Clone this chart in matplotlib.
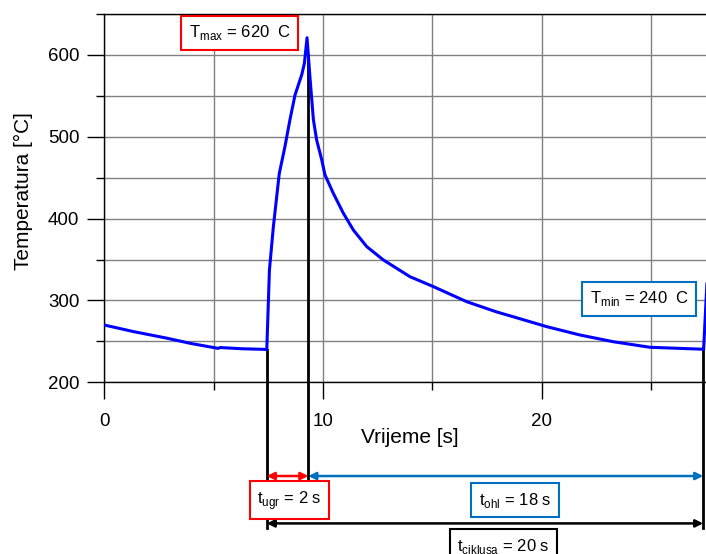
import matplotlib
matplotlib.use("Agg")
import matplotlib.pyplot as plt
from matplotlib.ticker import MultipleLocator

plt.rcParams["font.family"] = ["Liberation Sans", "DejaVu Sans"]
plt.rcParams["mathtext.fontset"] = "custom"
plt.rcParams["mathtext.rm"] = "Liberation Sans"

# one heating/cooling cycle
time = [0, 1.33, 2.85, 3.92, 5.2, 5.3, 6.3, 7.3, 7.43, 7.55, 7.73, 8.0, 8.26,
        8.49, 8.72, 9.03, 9.15, 9.27, 9.4, 9.56, 9.71, 9.94, 10.09, 10.47,
        10.93, 11.39, 12.0, 12.76, 13.98, 15.04, 16.57, 17.94, 18.71, 20.23,
        21.75, 23.27, 24.95, 27.3, 27.4, 27.55]
temp = [270, 262, 254, 247.7, 241.5, 242.5, 241, 240.3, 240, 337, 390, 455, 488,
        521, 551, 576, 590, 621, 574, 521, 496, 472, 453.5, 431,
        406.6, 386, 365.8, 349.5, 329, 317, 298.5, 286, 280, 268,
        257.8, 249.6, 242.8, 240.5, 240, 320]

t_start, t_peak, t_end = 7.43, 9.33, 27.38
T_max, T_min = 620, 240
t_ugr, t_ohl, t_cik = 2, 18, 20

RED, BLUE, BLACK = "#ff0000", "#0070c0", "#000000"

fig = plt.figure(figsize=(7.06, 5.54), dpi=100)
ax = fig.add_axes([0.1477, 0.3099, 0.8523, 0.6648])

ax.plot(time, temp, color="#0000ff", lw=2.2, zorder=3)
ax.set_xlim(0, 27.51)
ax.set_ylim(200, 650)

ax.xaxis.set_major_locator(MultipleLocator(10))
ax.xaxis.set_minor_locator(MultipleLocator(5))
ax.yaxis.set_major_locator(MultipleLocator(100))
ax.yaxis.set_minor_locator(MultipleLocator(50))
ax.grid(True, which="both", color="#808080", lw=1.0)
ax.set_axisbelow(True)
ax.tick_params(which="major", direction="out", length=12, width=1, labelsize=13.5,
               color="black")
ax.tick_params(which="minor", direction="out", length=6, width=1, color="black")
ax.tick_params(axis="x", which="major", pad=10)
ax.tick_params(axis="y", which="major", pad=6)
ax.spines["right"].set_visible(False)
for s in ("left", "bottom", "top"):
    ax.spines[s].set_linewidth(1.0)

ax.set_xlabel("Vrijeme [s]", fontsize=15)
ax.xaxis.set_label_coords(0.508, -0.151)
ax.xaxis.label.set_va("center")
ax.set_ylabel("Temperatura [°C]", fontsize=15)
ax.yaxis.set_label_coords(-0.135, 0.52)
ax.yaxis.label.set_va("center")

# vertical markers (extend below the axes)
ax.plot([t_start, t_start], [T_min, 22.5], color=BLACK, lw=2, clip_on=False)
ax.plot([t_peak, t_peak], [600, 80.6], color=BLACK, lw=2, clip_on=False)
ax.plot([t_end, t_end], [T_min, 22.5], color=BLACK, lw=2, clip_on=False)


def span(x0, x1, y, color):
    ax.annotate("", xy=(x1, y), xytext=(x0, y), xycoords="data",
                annotation_clip=False,
                arrowprops=dict(arrowstyle="<|-|>", color=color, lw=1.8,
                                shrinkA=0, shrinkB=0, mutation_scale=11))


span(t_start, t_peak, 85.5, RED)
span(t_peak, t_end, 85.5, BLUE)
span(t_start, t_end, 27.6, BLACK)


def label(x, y, s, edge):
    ax.text(x, y, s, ha="center", va="center", fontsize=12, clip_on=False,
            bbox=dict(boxstyle="square,pad=0.45", fc="white", ec=edge, lw=1.5))


label(6.2, 627, r"T$_\mathregular{max}$ = %d  C" % T_max, RED)
label(24.45, 302, r"T$_\mathregular{min}$ = %d  C" % T_min, BLUE)
label(8.47, 56, r"t$_\mathregular{ugr}$ = %d s" % t_ugr, RED)
label(18.77, 56, r"t$_\mathregular{ohl}$ = %d s" % t_ohl, BLUE)
label(18.25, 0, r"t$_\mathregular{ciklusa}$ = %d s" % t_cik, BLACK)

fig.savefig("out.png", dpi=100)
